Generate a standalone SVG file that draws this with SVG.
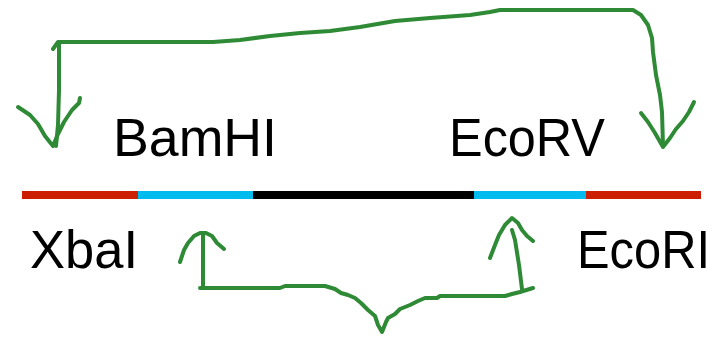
<svg xmlns="http://www.w3.org/2000/svg" width="725" height="337" viewBox="0 0 725 337">
  <style>
    .lbl { font-family: "Liberation Sans", Arial, sans-serif; font-size: 54px; fill: #000; }
    .pen { fill: none; stroke: #2f8a36; stroke-width: 4; stroke-linecap: round; stroke-linejoin: round; }
  </style>
  <rect width="725" height="337" fill="#fff"/>

  <!-- DNA construct bar -->
  <g id="construct">
    <rect x="22" y="191" width="116" height="8" fill="#cc1f00"/>
    <rect x="138" y="191" width="115" height="8" fill="#00bbee"/>
    <rect x="253" y="191" width="221" height="8" fill="#000"/>
    <rect x="474" y="191" width="112" height="8" fill="#00bbee"/>
    <rect x="586" y="191" width="115" height="8" fill="#cc1f00"/>
  </g>

  <!-- restriction site labels -->
  <g id="bamhi"><text class="lbl" x="113" y="156" textLength="164" lengthAdjust="spacingAndGlyphs">BamHI</text></g>
  <g id="ecorv"><text class="lbl" x="449" y="156" textLength="156" lengthAdjust="spacingAndGlyphs">EcoRV</text></g>
  <g id="xbai"><text class="lbl" x="30" y="268" textLength="108" lengthAdjust="spacingAndGlyphs">XbaI</text></g>
  <g id="ecori"><text class="lbl" x="577" y="268" textLength="133" lengthAdjust="spacingAndGlyphs">EcoRI</text></g>

  <!-- hand-drawn connectors -->
  <g id="connectors">
    <!-- top: swap of outer sites -->
    <path class="pen" d="M53,49 L58,42 L120,42 L213,42 L240,40 L270,36 L300,33 L330,31 L360,27 L395,21 L430,18 L470,15 L490,12 L500,10 L633,10 L641,15 L648,25 L652,38 L653,52 L656,75 L660,95 L662,112 L663,146"/>
    <path class="pen" d="M59,44 L59,90 L58,125 L56,146"/>
    <path class="pen" d="M18,107 L30,115 L38,124 L45,136 L53,146 L58,134 L64,122 L72,110 L79,103 L80,98"/>
    <path class="pen" d="M641,113 L648,122 L655,133 L663,147 L670,138 L676,129 L683,121 L689,112 L694,102"/>
    <!-- bottom: inner sites -->
    <path class="pen" d="M203,233 L203,288 M200,288 L280,288 L285,286 L325,286 L335,289 L341,293 L348,295 L355,298 L361,303 L368,310 L375,316 L378,325 L382,332 L386,322 L388,318 L395,314 L400,309 L410,305 L418,301 L425,298 L437,298 L440,296 L505,296 L512,294 L520,292 L533,288"/>
    <path class="pen" d="M522,289 L519,265 L515,240 L512,230"/>
    <path class="pen" d="M180,262 L184,250 L188,243 L194,236 L200,233 L206,233 L212,236 L217,243 L224,249"/>
    <path class="pen" d="M490,258 L495,245 L499,235 L505,225 L512,218 L518,223 L522,230 L527,236 L533,241"/>
  </g>
</svg>
